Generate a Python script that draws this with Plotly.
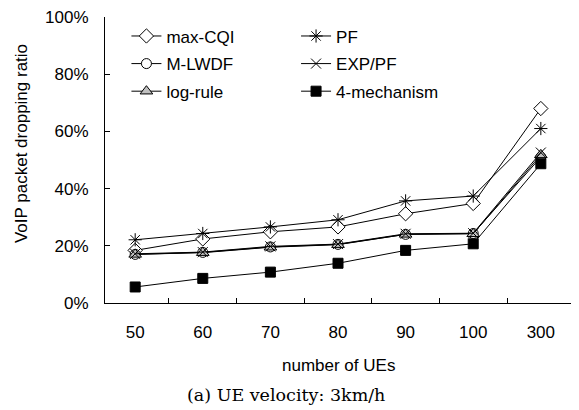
import plotly.graph_objects as go

categories = ["50", "60", "70", "80", "90", "100", "300"]
max_cqi = [18.4, 22.4, 24.9, 26.6, 31.2, 34.8, 68.0]
pf = [22.1, 24.3, 26.6, 29.1, 35.7, 37.4, 61.0]
m_lwdf = [17.0, 17.7, 19.6, 20.5, 24.0, 24.3, 51.0]
exp_pf = [17.2, 17.8, 19.8, 20.6, 24.2, 24.4, 52.6]
log_rule = [17.0, 17.6, 19.5, 20.4, 24.0, 24.2, 51.8]
four_mech = [5.6, 8.6, 10.8, 13.9, 18.4, 20.7, 48.7]
y_ticks = [0, 20, 40, 60, 80, 100]

FONT = "Liberation Sans, Arial, sans-serif"

fig = go.Figure()

def add(name, ys, symbol, size, fill, legend):
    fig.add_trace(go.Scatter(
        x=categories, y=ys, name=name, mode="lines+markers",
        line=dict(color="black", width=1),
        marker=dict(symbol=symbol, size=size, color=fill,
                    line=dict(color="black", width=1)),
        legend=legend, legendgroup=name,
    ))

add("max-CQI", max_cqi, "diamond", 11, "white", "legend")
add("M-LWDF", m_lwdf, "circle", 10, "white", "legend")
add("log-rule", log_rule, "triangle-up", 11, "#c0c0c0", "legend")
add("PF", pf, "asterisk-open", 11, "black", "legend2")
add("EXP/PF", exp_pf, "x-thin-open", 10, "black", "legend2")
add("4-mechanism", four_mech, "square", 10, "black", "legend2")

leg_common = dict(font=dict(family=FONT, size=17, color="black"),
                  bgcolor="rgba(0,0,0,0)", borderwidth=0,
                  tracegroupgap=2.5, xanchor="left", yanchor="top",
                  itemwidth=30)

fig.update_layout(
    width=579, height=410,
    margin=dict(l=105, r=8, t=10, b=107),
    paper_bgcolor="white", plot_bgcolor="white",
    font=dict(family=FONT, size=17, color="black"),
    showlegend=True,
    legend=dict(x=0.046, y=0.995, **leg_common),
    legend2=dict(x=0.41, y=0.995, **leg_common),
    xaxis=dict(type="category", showline=True, linecolor="black", linewidth=1,
               ticks="inside", ticklen=5, tickcolor="black",
               tickson="boundaries", showgrid=False, zeroline=False,
               ticklabelstandoff=14,
               tickfont=dict(family=FONT, size=17, color="black")),
    yaxis=dict(range=[0, 100], tickvals=y_ticks,
               ticktext=[f"{v}%" for v in y_ticks],
               showline=True, linecolor="black", linewidth=1,
               ticks="inside", ticklen=5, tickcolor="black",
               showgrid=False, zeroline=False, ticklabelstandoff=12,
               tickfont=dict(family=FONT, size=17, color="black")),
    annotations=[
        dict(text="VoIP packet dropping ratio", xref="paper", yref="paper",
             x=-0.178, y=0.556, textangle=-90, showarrow=False,
             xanchor="center", yanchor="middle",
             font=dict(family=FONT, size=17, color="black")),
        dict(text="number of UEs", xref="paper", yref="paper",
             x=0.501, y=-0.218, showarrow=False,
             xanchor="center", yanchor="middle",
             font=dict(family=FONT, size=17, color="black")),
        dict(text="(a) UE velocity: 3km/h", xref="paper", yref="paper",
             x=0.388, y=-0.32, showarrow=False,
             xanchor="center", yanchor="middle",
             font=dict(family="DejaVu Serif, Liberation Serif, serif", size=17.5, color="black")),
    ],
)

fig.write_html("out.html")
